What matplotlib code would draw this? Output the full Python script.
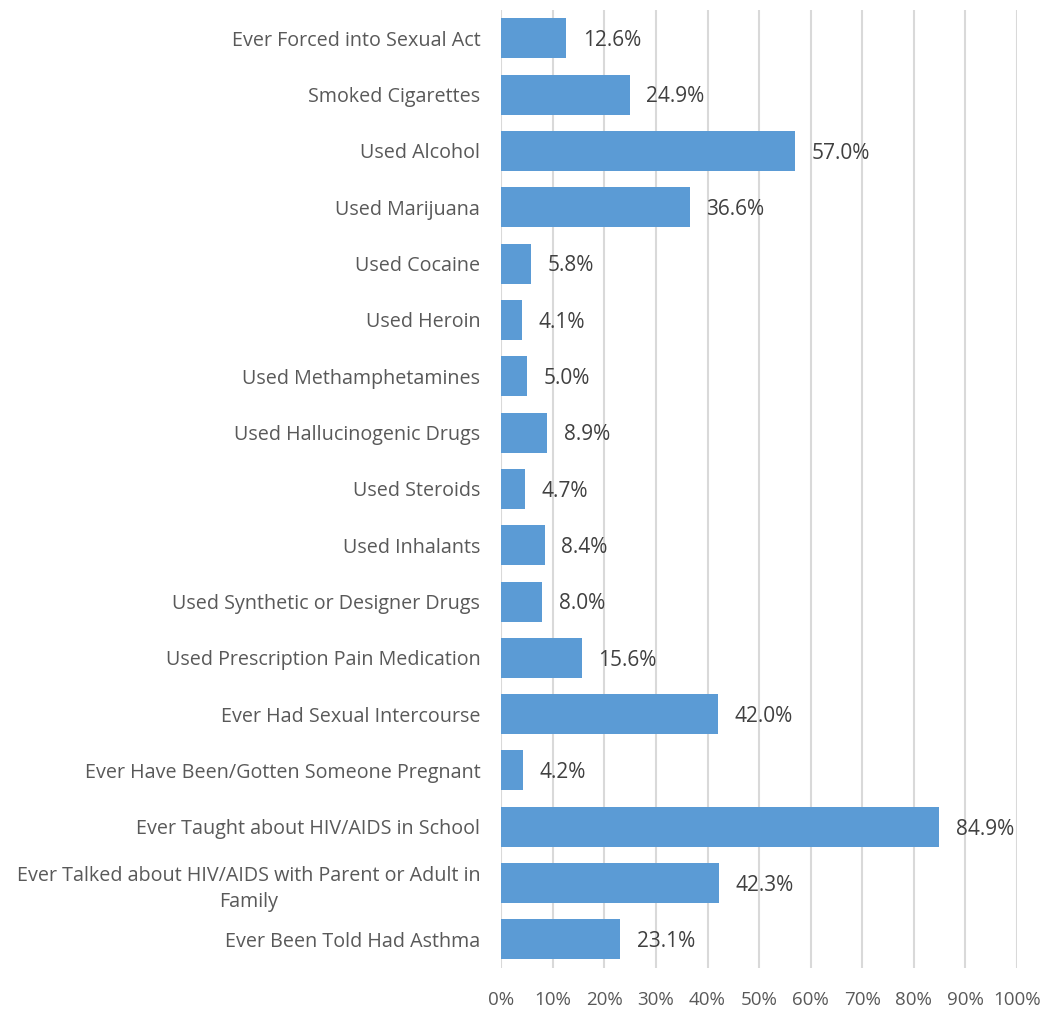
import matplotlib.pyplot as plt
from matplotlib.ticker import FuncFormatter

categories = [
    'Ever Forced into Sexual Act',
    'Smoked Cigarettes',
    'Used Alcohol',
    'Used Marijuana',
    'Used Cocaine',
    'Used Heroin',
    'Used Methamphetamines',
    'Used Hallucinogenic Drugs',
    'Used Steroids',
    'Used Inhalants',
    'Used Synthetic or Designer Drugs',
    'Used Prescription Pain Medication',
    'Ever Had Sexual Intercourse',
    'Ever Have Been/Gotten Someone Pregnant',
    'Ever Taught about HIV/AIDS in School',
    'Ever Talked about HIV/AIDS with Parent or Adult in\nFamily',
    'Ever Been Told Had Asthma',
]
values = [12.6, 24.9, 57.0, 36.6, 5.8, 4.1, 5.0, 8.9, 4.7, 8.4, 8.0, 15.6, 42.0, 4.2, 84.9, 42.3, 23.1]
xticks = [0, 10, 20, 30, 40, 50, 60, 70, 80, 90, 100]

plt.rcParams['font.family'] = ['Open Sans', 'DejaVu Sans']
txt = '#595959'

fig = plt.figure(figsize=(10.42, 10.09), dpi=100)
ax = fig.add_axes([0.481, 0.041, 0.495, 0.949])

ypos = list(range(len(categories)))
ax.barh(ypos, values, height=0.71, color='#5B9BD5', zorder=3)
for y, v in zip(ypos, values):
    ax.text(v + 3.2, y + 0.04, '%.1f%%' % v, va='center', ha='left', fontsize=15, color='#404040', zorder=4)

ax.set_ylim(len(categories) - 0.5, -0.5)
ax.set_xlim(0, 100)
ax.set_yticks(ypos)
ax.set_yticklabels(categories, fontsize=14.2, color=txt, multialignment='center', linespacing=1.45)
ax.set_xticks(xticks)
ax.xaxis.set_major_formatter(FuncFormatter(lambda x, p: '%d%%' % x))
ax.tick_params(axis='x', labelsize=13.5, labelcolor=txt, length=0, pad=17)
ax.tick_params(axis='y', length=0, pad=15)
ax.grid(axis='x', color='#D9D9D9', linewidth=1.5, zorder=0)
for s in ax.spines.values():
    s.set_visible(False)

fig.savefig('out.png', dpi=100, facecolor='w')
